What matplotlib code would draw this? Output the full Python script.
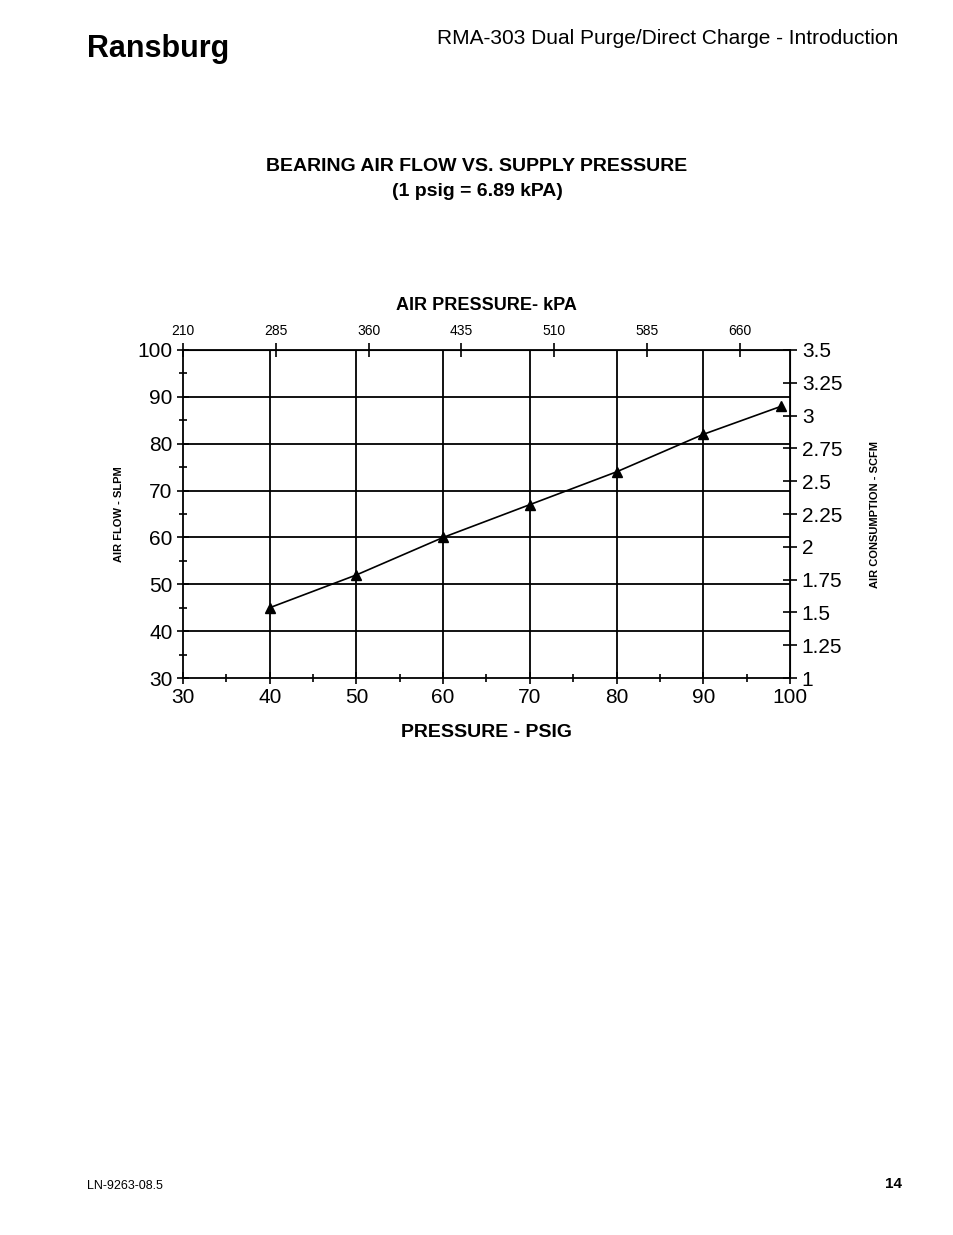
import matplotlib
matplotlib.use("Agg")
import matplotlib.pyplot as plt
import numpy as np

plt.rcParams['font.family'] = ['Liberation Sans', 'DejaVu Sans']

psig = [40, 50, 60, 70, 80, 90, 99]
flow = [45, 52, 60, 67, 74, 82, 88]
kpa_ticks = [210, 285, 360, 435, 510, 585, 660]
scfm_ticks = [1, 1.25, 1.5, 1.75, 2, 2.25, 2.5, 2.75, 3, 3.25, 3.5]

fig = plt.figure(figsize=(9.54, 12.35), dpi=100)
fig.text(0.091, 0.960, "Ransburg", fontsize=22, fontweight='bold', ha='left', va='center', fontstretch='condensed')
fig.text(0.942, 0.969, "RMA-303 Dual Purge/Direct Charge - Introduction", fontsize=15, ha='right', va='center')
fig.text(0.5, 0.865, "BEARING AIR FLOW VS. SUPPLY PRESSURE", fontsize=14, fontweight='bold', ha='center', va='center')
fig.text(0.5, 0.845, "(1 psig = 6.89 kPA)", fontsize=14, fontweight='bold', ha='center', va='center')
fig.text(0.091, 0.040, "LN-9263-08.5", fontsize=9, ha='left', va='center')
fig.text(0.945, 0.041, "14", fontsize=11, fontweight='bold', ha='right', va='center')

ax = fig.add_axes([0.1918, 0.451, 0.6363, 0.2656])
ax.plot(psig, flow, color='black', lw=1.2, marker='^', ms=7)
ax.set_xlim(30, 100)
ax.set_ylim(30, 100)
ax.set_xticks(range(30, 101, 10))
ax.set_yticks(range(30, 101, 10))
ax.set_xticks(range(35, 100, 10), minor=True)
ax.set_yticks(range(35, 100, 10), minor=True)
for v in range(40, 100, 10):
    ax.axvline(v, color='black', lw=1.3)
    ax.axhline(v, color='black', lw=1.3)
for s in ax.spines.values():
    s.set_linewidth(1.3)
ax.spines['right'].set_visible(True)
ax.tick_params(axis='both', which='both', direction='inout', labelsize=15, width=1.2)
ax.tick_params(axis='both', which='major', length=8)
ax.tick_params(axis='both', which='minor', length=6)
ax.set_xlabel("PRESSURE - PSIG", fontsize=14, fontweight='bold', labelpad=12)
ax.set_ylabel("AIR FLOW - SLPM", fontsize=8, fontweight='bold', labelpad=10)

f = lambda x: 210 + (x - 30) * 75 / 10.7
finv = lambda k: 30 + (k - 210) * 10.7 / 75
top = ax.secondary_xaxis('top', functions=(f, finv))
top.set_xticks(kpa_ticks)
top.tick_params(direction='inout', length=10, width=1.2, labelsize=10)
top.set_xlabel("AIR PRESSURE- kPA", fontsize=13, fontweight='bold', labelpad=10)

g = lambda y: 1 + (y - 30) * 2.5 / 70
ginv = lambda s: 30 + (s - 1) * 70 / 2.5
right = ax.secondary_yaxis('right', functions=(g, ginv))
right.set_yticks(scfm_ticks)
right.set_yticklabels([f"{t:g}" for t in scfm_ticks])
right.tick_params(direction='inout', length=10, width=1.2, labelsize=15)
right.set_ylabel("AIR CONSUMPTION - SCFM", fontsize=8, fontweight='bold', labelpad=20)

fig.savefig("out.png", dpi=100)
